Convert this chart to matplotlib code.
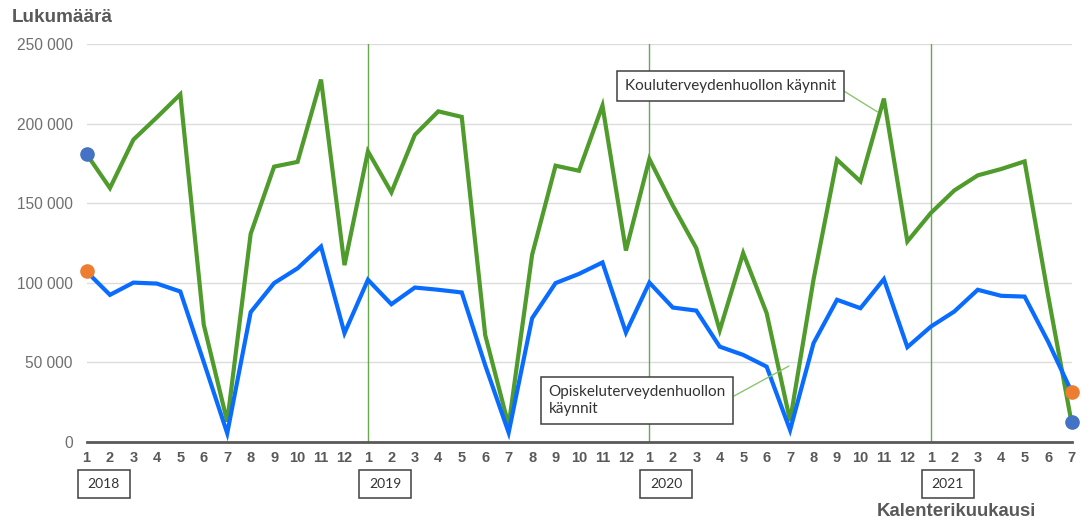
import numpy as np
import matplotlib
matplotlib.use("Agg")
import matplotlib.pyplot as plt
from matplotlib.patches import Rectangle

# months 2018-1 .. 2021-7
years = [2018, 2019, 2020, 2021]
month_labels = [str(m) for y in years for m in range(1, 13)][:43]

koulu = [181000, 159500, 190000, 204000, 218500, 73500, 12500, 130700, 173000, 176000,
         227800, 111000,
         182600, 156800, 193000, 207800, 204300, 67000, 10000, 117500, 173600, 170400,
         211400, 120200,
         177800, 148500, 121700, 70000, 118600, 80800, 13000, 102000, 177400, 163700,
         215800, 125900,
         143800, 158000, 167500, 171500, 176300, 92000, 12000]

opiskelu = [107000, 92300, 100000, 99400, 94400, 50000, 5200, 81400, 99700, 109000,
            122700, 68200,
            101800, 86400, 96900, 95500, 93800, 48000, 5600, 77600, 99700, 105500,
            112700, 68600,
            100000, 84300, 82400, 59700, 54500, 47100, 7200, 61900, 89200, 83900,
            102200, 59400,
            72300, 81800, 95500, 91700, 91200, 62900, 31400]

yticks = [0, 50000, 100000, 150000, 200000, 250000]
ytick_labels = ["0", "50 000", "100 000", "150 000", "200 000", "250 000"]

GREEN = "#4f9b2c"
BLUE = "#0a6cff"
DOT_BLUE = "#4472c4"
DOT_ORANGE = "#ed7d31"
GRAY = "#6f6f6f"
DARK = "#595959"

x = np.arange(len(month_labels))

fig = plt.figure(figsize=(10.88, 5.22), dpi=100)
W, H = 1088, 522
ax = fig.add_axes([86.5 / W, 1 - 441.5 / H, (1072 - 86.5) / W, (441.5 - 44.3) / H])
ax.set_xlim(0, len(x) - 1 + 0.02)
ax.set_ylim(0, 250000)

for s in ["top", "right", "left"]:
    ax.spines[s].set_visible(False)
ax.spines["bottom"].set_color(DARK)
ax.spines["bottom"].set_linewidth(2)
ax.spines["bottom"].set_zorder(5)

ax.set_yticks(yticks)
ax.set_yticklabels(ytick_labels, fontsize=11.2, color=GRAY, family="Liberation Sans")
ax.tick_params(axis="y", length=0, pad=10)
ax.yaxis.grid(True, color="#dcdcdc", lw=1)
ax.set_axisbelow(True)

ax.set_xticks(x)
ax.set_xticklabels(month_labels, fontsize=10.5, color=DARK, fontweight="bold",
                   family="Liberation Sans")
ax.tick_params(axis="x", length=0, pad=7)

# year separators
for i in range(12, len(x), 12):
    ax.axvline(i, color="#6aa84f", lw=1, zorder=1)

ax.plot(x, koulu, color=GREEN, lw=3, zorder=3, clip_on=False, solid_joinstyle="miter")
ax.plot(x, opiskelu, color=BLUE, lw=3, zorder=3, clip_on=False, solid_joinstyle="miter")

ax.plot([x[0], x[-1]], [koulu[0], koulu[-1]], "o", color=DOT_BLUE, ms=9.5,
        zorder=4, clip_on=False)
ax.plot([x[0], x[-1]], [opiskelu[0], opiskelu[-1]], "o", color=DOT_ORANGE, ms=9.5,
        zorder=4, clip_on=False)

# year boxes under the month labels
fig.canvas.draw()
for k, yr in enumerate(years):
    px = ax.transData.transform((12 * k, 0))[0]
    left = px - 9
    rect = Rectangle((left / W, 1 - 498 / H), 52 / W, 28 / H, transform=fig.transFigure,
                     facecolor="white", edgecolor="#404040", lw=1.1)
    fig.patches.append(rect)
    fig.text((left + 26) / W, 1 - 484.5 / H, str(yr), ha="center", va="center",
             fontsize=10, color="#333333", family="Lato")

# callouts
ax.annotate("Kouluterveydenhuollon käynnit", xy=(33.72, 207500), xytext=(22.95, 223700),
            ha="left", va="center", fontsize=11, color="#333333", family="Lato",
            bbox=dict(boxstyle="square,pad=0.5", fc="white", ec="#404040", lw=1.1),
            arrowprops=dict(arrowstyle="-", color="#8cc56e", lw=1, shrinkA=0, shrinkB=0,
                            relpos=(1, 0.5)))
ax.annotate("Opiskeluterveydenhuollon\nkäynnit", xy=(29.95, 47500), xytext=(19.7, 25800),
            ha="left", va="center", fontsize=11, color="#333333", family="Lato",
            linespacing=1.3,
            bbox=dict(boxstyle="square,pad=0.5", fc="white", ec="#404040", lw=1.1),
            arrowprops=dict(arrowstyle="-", color="#8cc56e", lw=1, shrinkA=0, shrinkB=0,
                            relpos=(1, 0.5)))

fig.text(12 / W, 1 - 18 / H, "Lukumäärä", ha="left", va="center", fontsize=13.6,
         fontweight="bold", color=DARK, family="Liberation Sans")
fig.text(1036 / W, 1 - 512 / H, "Kalenterikuukausi", ha="right", va="center",
         fontsize=13.4, fontweight="bold", color=DARK, family="Liberation Sans")

fig.savefig("out.png", dpi=100)
